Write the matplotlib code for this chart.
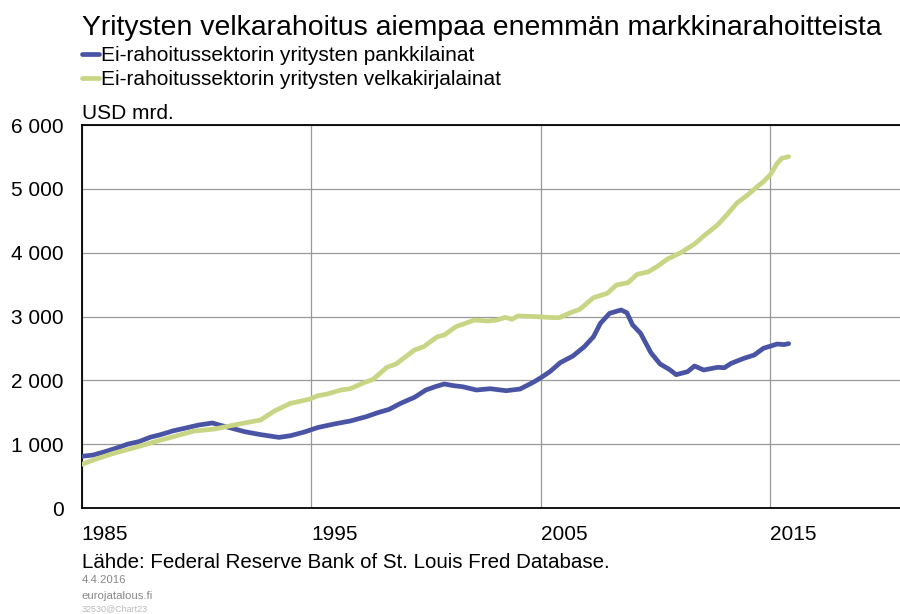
import matplotlib
matplotlib.use("Agg")
import matplotlib.pyplot as plt
from matplotlib.ticker import FuncFormatter

plt.rcParams['font.family'] = ['Liberation Sans', 'DejaVu Sans']

# Ei-rahoitussektorin yritysten pankkilainat (USD mrd.)
bank_years = [1985.0, 1985.5, 1986.0, 1986.7, 1987.0, 1987.5, 1988.0, 1988.4, 1989.0, 1989.5,
              1990.1, 1990.7, 1991.0, 1991.4, 1992.1, 1992.8, 1993.6, 1994.1, 1994.7, 1995.3,
              1996.0, 1996.7, 1997.4, 1997.9, 1998.4, 1998.9, 1999.5, 2000.0, 2000.4, 2000.8,
              2001.2, 2001.6, 2002.2, 2002.8, 2003.5, 2004.1, 2004.7, 2005.0, 2005.4, 2005.85,
              2006.4, 2006.9, 2007.3, 2007.6, 2008.0, 2008.5, 2008.75, 2009.0, 2009.35, 2009.8,
              2010.2, 2010.6, 2010.9, 2011.4, 2011.7, 2012.1, 2012.7, 2013.0, 2013.3, 2013.85,
              2014.3, 2014.7, 2015.3, 2015.6, 2015.8]
bank_loans = [810, 830, 880, 960, 1000, 1040, 1110, 1145, 1210, 1250,
              1300, 1332, 1300, 1264, 1196, 1150, 1107, 1133, 1190, 1262,
              1316, 1363, 1431, 1493, 1546, 1640, 1734, 1849, 1900, 1943,
              1917, 1900, 1849, 1869, 1838, 1864, 1975, 2040, 2136, 2277,
              2381, 2527, 2684, 2893, 3050, 3102, 3060, 2870, 2737, 2433,
              2256, 2172, 2089, 2136, 2225, 2162, 2204, 2198, 2267, 2345,
              2397, 2502, 2569, 2560, 2575]

# Ei-rahoitussektorin yritysten velkakirjalainat (USD mrd.)
bond_years = [1985.0, 1985.6, 1986.4, 1987.3, 1988.2, 1989.1, 1989.9, 1990.8, 1991.5, 1992.4,
              1992.8, 1993.4, 1994.1, 1994.9, 1995.3, 1995.7, 1996.3, 1996.7, 1997.3, 1997.7,
              1998.3, 1998.7, 1999.5, 1999.9, 2000.5, 2000.8, 2001.3, 2001.6, 2002.1, 2002.7,
              2003.1, 2003.45, 2003.75, 2004.0, 2004.7, 2005.4, 2005.8, 2006.3, 2006.7, 2007.3,
              2007.9, 2008.3, 2008.8, 2009.2, 2009.7, 2010.1, 2010.5, 2011.1, 2011.7, 2012.1,
              2012.7, 2013.1, 2013.55, 2014.0, 2014.45, 2014.7, 2015.0, 2015.3, 2015.5, 2015.8]
bond_loans = [684, 763, 857, 945, 1039, 1128, 1206, 1238, 1290, 1352,
              1379, 1520, 1640, 1703, 1760, 1786, 1849, 1869, 1963, 2016,
              2204, 2256, 2475, 2527, 2684, 2710, 2840, 2878, 2945, 2930,
              2945, 2987, 2956, 3008, 3000, 2985, 2981, 3060, 3113, 3295,
              3363, 3494, 3530, 3661, 3702, 3791, 3896, 4000, 4136, 4261,
              4434, 4590, 4780, 4900, 5040, 5112, 5220, 5400, 5478, 5504]

x_ticks = [1985, 1995, 2005, 2015]
y_ticks = [0, 1000, 2000, 3000, 4000, 5000, 6000]

BLUE = "#4a54a4"
GREEN = "#c8d584"

fig = plt.figure(figsize=(9, 6.14), dpi=100)
ax = fig.add_axes([0.0906, 0.1726, 0.9094, 0.6238])

ax.plot(bank_years, bank_loans, color=BLUE, lw=3.4, solid_capstyle="round",
        label="Ei-rahoitussektorin yritysten pankkilainat", zorder=3)
ax.plot(bond_years, bond_loans, color=GREEN, lw=3.4, solid_capstyle="round",
        label="Ei-rahoitussektorin yritysten velkakirjalainat", zorder=3)

ax.set_xlim(1985, 2020.65)
ax.set_ylim(0, 6000)
ax.set_yticks(y_ticks)
ax.yaxis.set_major_formatter(FuncFormatter(lambda v, p: f"{int(v):,}".replace(",", " ")))
ax.set_xticks(x_ticks)
ax.set_xticklabels([str(t) for t in x_ticks], ha="left")
ax.tick_params(axis="both", length=0, labelsize=15)
ax.tick_params(axis="x", pad=12)
ax.tick_params(axis="y", pad=13)

ax.grid(True, color="#999999", lw=0.9)
ax.set_axisbelow(True)
for s in ["left", "bottom", "top"]:
    ax.spines[s].set_color("black")
    ax.spines[s].set_linewidth(1.3)
ax.spines["right"].set_visible(False)

fig.text(0.0911, 0.955, "Yritysten velkarahoitus aiempaa enemmän markkinarahoitteista",
         fontsize=20.4, va="center", ha="left")
fig.legend(loc="upper left", bbox_to_anchor=(0.0911, 0.925), frameon=False,
           fontsize=15, handlelength=0.8, handletextpad=0.12, labelspacing=0.25,
           borderpad=0, borderaxespad=0)
fig.text(0.0911, 0.815, "USD mrd.", fontsize=15, va="center", ha="left")
fig.text(0.0911, 0.084, "Lähde: Federal Reserve Bank of St. Louis Fred Database.",
         fontsize=14.8, va="center", ha="left")
fig.text(0.0911, 0.055, "4.4.2016", fontsize=8.2, color="#888888", va="center", ha="left")
fig.text(0.0911, 0.029, "eurojatalous.fi", fontsize=8.2, color="#888888", va="center", ha="left")
fig.text(0.0911, 0.008, "32530@Chart23", fontsize=6.5, color="#bbbbbb", va="center", ha="left")

fig.savefig("out.png", dpi=100)
